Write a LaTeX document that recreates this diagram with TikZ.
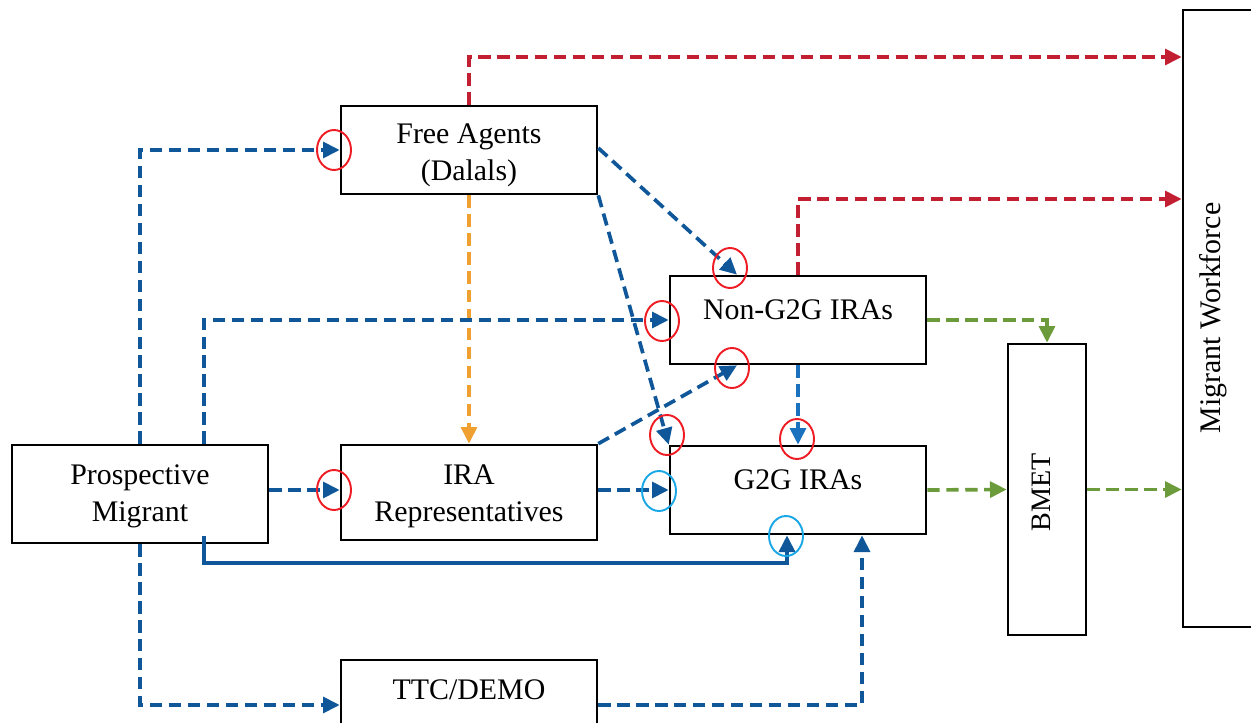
\documentclass[tikz,border=0pt]{standalone}
\usepackage{fontspec}
\setmainfont{Liberation Serif}
\usetikzlibrary{arrows.meta,calc}
\definecolor{cblue}{HTML}{0F5799}
\definecolor{lblue}{HTML}{1A72BE}
\definecolor{cred}{HTML}{C21F32}
\definecolor{corange}{HTML}{F0A030}
\definecolor{cgreen}{HTML}{6B9B3A}
\definecolor{ringred}{HTML}{EE1C24}
\definecolor{ringcyan}{HTML}{1AA7E6}
\tikzset{
  box/.style={draw=black,line width=1.5pt,fill=white,inner sep=0pt},
  lbl/.style={align=center,inner sep=0pt,font=\fontsize{17}{21}\selectfont},
  flow/.style={line width=2.1pt,dash pattern=on 7pt off 3.8pt,
    -{Triangle[length=9.5pt,width=9pt]}},
  solidflow/.style={line width=2.1pt,-{Triangle[length=9.5pt,width=9pt]}},
  ring/.style={line width=1.1pt},
}
\begin{document}
\begin{tikzpicture}[x=0.02cm,y=-0.02cm]
\useasboundingbox (0,0) rectangle (1251,723);
\clip (0,0) rectangle (1251,723);
% boxes
\node[box,minimum width=5.12cm,minimum height=1.76cm] (fa) at (469,150) {};
\node[box,minimum width=5.12cm,minimum height=1.76cm] (ng) at (798,320) {};
\node[box,minimum width=5.12cm,minimum height=1.76cm] (g2g) at (798,490) {};
\node[box,minimum width=5.12cm,minimum height=1.9cm] (ira) at (469,492.5) {};
\node[box,minimum width=5.12cm,minimum height=1.96cm] (pm) at (140,494) {};
\node[box,minimum width=5.12cm,minimum height=1.8cm] (ttc) at (469,705) {};
\node[box,minimum width=1.56cm,minimum height=5.82cm] (bmet) at (1047,489.5) {};
\node[box,minimum width=1.8cm,minimum height=12.34cm] (mw) at (1228,318.5) {};
% labels
\node[lbl] (fat) at (469,155) {Free Agents\\(Dalals)};
\node[lbl] (ngt) at (798,310) {Non-G2G IRAs};
\node[lbl] (g2gt) at (798,480) {G2G IRAs};
\node[lbl] (irat) at (469,496) {IRA\\Representatives};
\node[lbl] (pmt) at (140,496) {Prospective\\Migrant};
\node[lbl] (ttct) at (469,690) {TTC/DEMO};
\node[rotate=90,font=\fontsize{16}{20}\selectfont] (bmett) at (1041,492) {BMET};
\node[rotate=90,font=\fontsize{17}{20}\selectfont] (mwt) at (1213,318) {Migrant Workforce};
% red flows
\draw[flow,cred] (fa.north) |- (mw.west |- 0,57);
\draw[flow,cred] (ng.north) |- (mw.west |- 0,199);
% orange
\draw[flow,corange] (fa.south) -- (ira.north);
% blue flows
\draw[flow,cblue] (pm.north) |- (fa.west);
\draw[flow,cblue] ($(pm.north)+(64,0)$) |- (ng.west);
\draw[flow,cblue] (pm.east |- 0,490) -- (ira.west |- 0,490);
\draw[flow,cblue] (pm.south) |- (ttc.west);
\draw[solidflow,cblue] ($(pm.south)+(64,-8)$) |- (787,563) -- (g2g.south -| 787,0);
\draw[flow,cblue] (ttc.east) -| (g2g.south -| 862,0);
\draw[flow,cblue] (ira.east |- 0,490) -- (g2g.west);
\draw[flow,cblue] (ira.north east) -- (ng.south -| 737,0);
\draw[flow,cblue] (fa.east |- 0,148) -- (ng.north -| 737,0);
\draw[flow,cblue] (fa.south east) -- (g2g.north west);
\draw[flow,lblue] (ng.south) -- (g2g.north);
% green flows
\draw[flow,cgreen] (ng.east) -| (bmet.north);
\draw[flow,cgreen] (g2g.east) -- (bmet.west);
\draw[flow,cgreen] (bmet.east) -- (mw.west |- bmet.east);
% rings
\draw[ring,ringred] (334,150) ellipse [x radius=17,y radius=20];
\draw[ring,ringred] (730,268) ellipse [x radius=17,y radius=20];
\draw[ring,ringred] (662,321) ellipse [x radius=17,y radius=20];
\draw[ring,ringred] (732,368) ellipse [x radius=17,y radius=20];
\draw[ring,ringred] (667,435) ellipse [x radius=17,y radius=20];
\draw[ring,ringred] (797,439) ellipse [x radius=17,y radius=20];
\draw[ring,ringred] (334,490) ellipse [x radius=17,y radius=20];
\draw[ring,ringcyan] (659,491) ellipse [x radius=17,y radius=20];
\draw[ring,ringcyan] (786,536) ellipse [x radius=17,y radius=20];
\end{tikzpicture}
\end{document}
